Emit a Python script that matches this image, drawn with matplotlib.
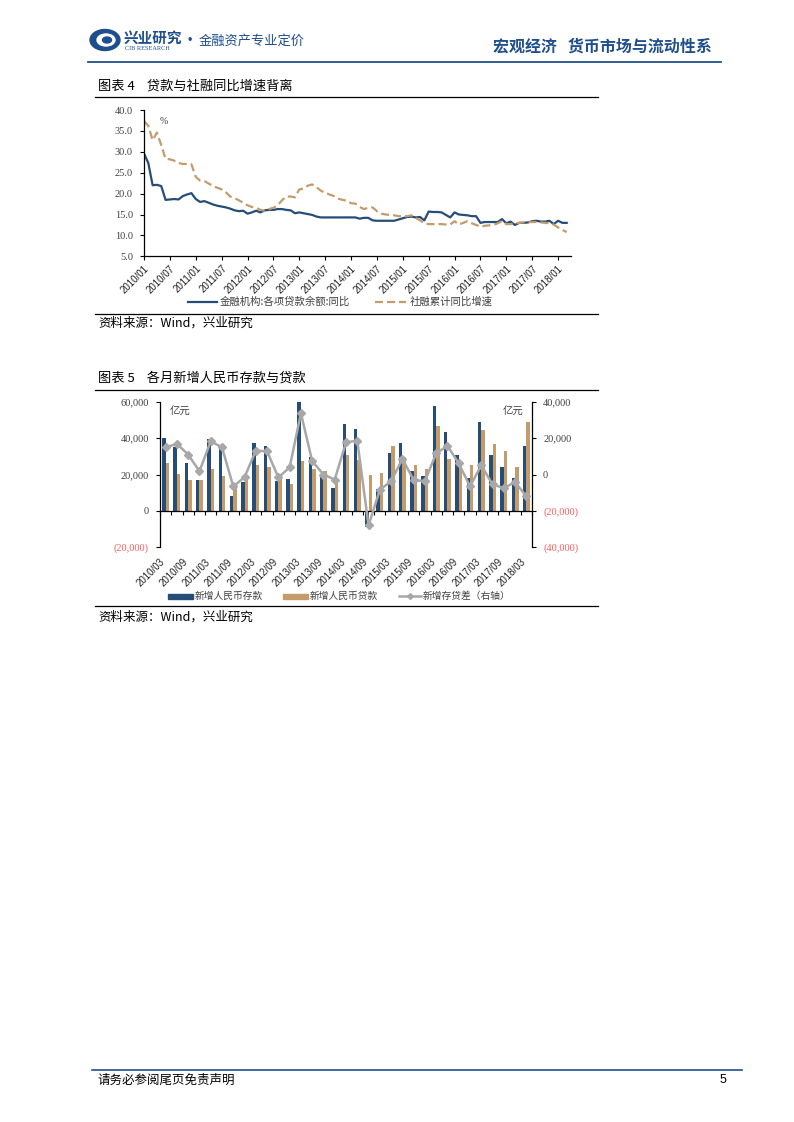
import matplotlib
matplotlib.use('Agg')
import matplotlib.pyplot as plt
from matplotlib.patches import Ellipse, Rectangle
from matplotlib.lines import Line2D

plt.rcParams['font.family'] = ['Noto Sans CJK SC', 'DejaVu Sans']

# ---------------- data: chart 1 (monthly, 2010/01 - 2018/03) ----------------
month_labels = ['2010/01', '2010/07', '2011/01', '2011/07', '2012/01', '2012/07',
                '2013/01', '2013/07', '2014/01', '2014/07', '2015/01', '2015/07',
                '2016/01', '2016/07', '2017/01', '2017/07', '2018/01']
loan_yoy = [29.6, 27.3, 22.0, 22.1, 21.8, 18.5, 18.6, 18.7, 18.6, 19.4, 19.8, 20.1,
            18.7, 18.0, 18.2, 17.8, 17.4, 17.1, 16.9, 16.7, 16.4, 16.0, 15.8, 15.9,
            15.2, 15.5, 15.9, 15.5, 16.0, 16.1, 16.1, 16.3, 16.3, 16.1, 16.0, 15.3,
            15.5, 15.3, 15.1, 14.9, 14.5, 14.3, 14.3, 14.3, 14.3, 14.3, 14.3, 14.3,
            14.3, 14.3, 14.0, 14.2, 14.2, 13.6, 13.5, 13.5, 13.5, 13.5, 13.5, 13.8,
            14.1, 14.4, 14.5, 14.3, 14.4, 13.6, 15.7, 15.6, 15.6, 15.5, 14.9, 14.3,
            15.5, 15.0, 14.9, 14.8, 14.6, 14.6, 13.0, 13.2, 13.2, 13.2, 13.2, 13.9,
            12.9, 13.3, 12.5, 13.0, 13.0, 13.1, 13.4, 13.5, 13.3, 13.3, 13.5, 12.7,
            13.5, 13.0, 13.0]
tsf_yoy = [37.4, 36.2, 32.8, 34.6, 31.6, 28.3, 28.2, 27.9, 27.3, 27.1, 27.1, 27.0,
           24.0, 23.1, 23.0, 22.4, 21.8, 21.4, 21.0, 20.3, 19.3, 18.9, 18.4, 17.8,
           17.2, 16.8, 16.6, 16.1, 15.9, 16.3, 16.6, 17.2, 18.4, 19.3, 19.3, 19.1,
           21.0, 21.2, 21.9, 22.2, 21.5, 20.7, 20.2, 19.8, 19.4, 18.8, 18.5, 18.3,
           17.7, 17.6, 16.8, 16.3, 16.6, 16.7, 15.8, 15.2, 15.0, 14.9, 14.8, 14.6,
           14.6, 14.6, 14.8, 14.2, 13.6, 12.9, 12.7, 12.7, 12.7, 12.7, 12.6, 12.6,
           13.4, 12.6, 13.0, 13.4, 12.9, 12.5, 12.1, 12.3, 12.4, 12.5, 12.9, 13.4,
           12.7, 12.7, 12.9, 13.0, 13.1, 13.2, 13.2, 13.2, 13.1, 13.0, 12.9, 12.6,
           11.9, 11.3, 10.8]
series1_names = ['金融机构:各项贷款余额:同比', '社融累计同比增速']
y1_ticks = [5.0, 10.0, 15.0, 20.0, 25.0, 30.0, 35.0, 40.0]

# ---------------- data: chart 2 (quarterly, 2010/03 - 2018/03) ----------------
quarter_labels = ['2010/03', '2010/09', '2011/03', '2011/09', '2012/03', '2012/09',
                  '2013/03', '2013/09', '2014/03', '2014/09', '2015/03', '2015/09',
                  '2016/03', '2016/09', '2017/03', '2017/09', '2018/03']
deposits = [40400, 35300, 26600, 17200, 39800, 34000, 7900, 15600, 37600, 36000, 16600,
            17700, 60100, 29800, 20300, 12800, 47600, 45300, -9200, 11900, 32100, 37600,
            21700, 18900, 58000, 43700, 31000, 17800, 49200, 31000, 24400, 18300, 36000]
loans = [26100, 20500, 16700, 16700, 22900, 18900, 15000, 18300, 25000, 23900, 18400,
         15000, 27200, 23300, 22100, 17300, 30600, 27800, 19500, 21000, 36000, 29900,
         25000, 22800, 47000, 28500, 26100, 25000, 44800, 37000, 32800, 23900, 49200]
gap = [15000, 16900, 11000, 1800, 18300, 15000, -6600, -1500, 13200, 12800, -1600,
       3900, 33800, 7400, 0, -2800, 17700, 18700, -28100, -8500, -3700, 8600, -3000,
       -3700, 11700, 15800, 6200, -6600, 5100, -5500, -7500, -4200, -12100]
series2_names = ['新增人民币存款', '新增人民币贷款', '新增存贷差（右轴）']
left_ticks = [-20000, 0, 20000, 40000, 60000]
right_ticks = [-40000, -20000, 0, 20000, 40000]

# ---------------- styles ----------------
W, H = 794, 1122
BLUE = '#264D78'
TAN = '#C49C6C'
GRAY = '#A8A8A8'
HEAD = '#1F4E8C'
RED = '#FF5B5B'
TXT = '#404040'
SERIF = ['Liberation Serif', 'DejaVu Serif']
SANS = ['Liberation Sans', 'DejaVu Sans']
CJK = ['Noto Sans CJK SC', 'DejaVu Sans']

fig = plt.figure(figsize=(W / 100, H / 100), dpi=100)


def rect(x0, y0, x1, y1):
    return [x0 / W, 1 - y1 / H, (x1 - x0) / W, (y1 - y0) / H]


def hline(x0, x1, y, color='black', lw=0.8):
    fig.add_artist(Line2D([x0 / W, x1 / W], [1 - y / H, 1 - y / H],
                          transform=fig.transFigure, color=color, lw=lw))


def ftext(x, y, s, **kw):
    fig.text(x / W, 1 - y / H, s, **kw)


# ---------------- header ----------------
fig.add_artist(Ellipse((105 / W, 1 - 40 / H), 30 / W, 21 / H, transform=fig.transFigure,
                       color=HEAD))
fig.add_artist(Ellipse((106 / W, 1 - 40 / H), 18 / W, 12 / H, transform=fig.transFigure,
                       color='white'))
fig.add_artist(Ellipse((107 / W, 1 - 40 / H), 9 / W, 6 / H, transform=fig.transFigure,
                       color=HEAD))
ftext(124, 38, '兴业研究', fontsize=10.5, fontweight='bold', color=HEAD, va='center',
      family=CJK)
ftext(125, 48, 'CIB RESEARCH', fontsize=4.5, color=HEAD, va='center', family=SERIF)
ftext(188, 41, '•', fontsize=9, color=HEAD, va='center', family=SANS)
ftext(199, 41, '金融资产专业定价', fontsize=9.5, color=HEAD, va='center', family=CJK)
ftext(712, 47, '宏观经济   货币市场与流动性系', fontsize=11.5, fontweight='bold', color=HEAD,
      va='center', ha='right', family=CJK)
hline(88, 721, 62, color=HEAD, lw=1.3)

# ---------------- chart 1 ----------------
ftext(98, 86, '图表 4    贷款与社融同比增速背离', fontsize=9.5, va='center', family=CJK)
hline(95, 598, 97, lw=0.9)
ax1 = fig.add_axes(rect(144, 110, 571, 256.3))
months = list(range(len(loan_yoy)))
ax1.plot(months, loan_yoy, color=BLUE, lw=1.6, solid_joinstyle='round')
ax1.plot(months, tsf_yoy, color=TAN, lw=1.6, dashes=(3.6, 1.8))
ax1.set_xlim(0, 99)
ax1.set_ylim(5, 40)
ax1.set_yticks(y1_ticks)
ax1.set_yticklabels([f'{v:.1f}' for v in y1_ticks], family=SERIF, fontsize=7.5,
                    color=TXT)
ax1.set_xticks(list(range(0, 97, 6)))
ax1.set_xticklabels(month_labels, rotation=45, ha='right', rotation_mode='anchor',
                    family=SANS, fontsize=7, color='#202020')
for s in ['top', 'right']:
    ax1.spines[s].set_visible(False)
for s in ['left', 'bottom']:
    ax1.spines[s].set_linewidth(0.9)
ax1.tick_params(axis='both', direction='out', length=3, width=0.8)
ax1.tick_params(axis='x', pad=2)
ax1.tick_params(axis='y', pad=5)
ftext(160, 121, '%', fontsize=7, va='center', family=SERIF, color=TXT)

# legend 1
hline(188, 217, 302, color=BLUE, lw=1.6)
ftext(220, 302, series1_names[0], fontsize=7.5, va='center', family=CJK, color=TXT)
fig.add_artist(Line2D([375 / W, 406 / W], [1 - 302 / H, 1 - 302 / H],
                      transform=fig.transFigure, color=TAN, lw=1.6, dashes=(3.6, 1.8)))
ftext(410, 302, series1_names[1], fontsize=7.5, va='center', family=CJK, color=TXT)
hline(95, 598, 314, lw=0.9)
ftext(98, 323, '资料来源：Wind，兴业研究', fontsize=9, va='center', family=CJK)

# ---------------- chart 2 ----------------
ftext(98, 378, '图表 5    各月新增人民币存款与贷款', fontsize=9.5, va='center', family=CJK)
hline(95, 598, 390, lw=0.9)
ax2 = fig.add_axes(rect(160, 402, 532, 547))
idx = list(range(len(deposits)))
bw = 0.31
ax2.bar([i - 0.155 for i in idx], deposits, width=bw, color=BLUE, zorder=2)
ax2.bar([i + 0.155 for i in idx], loans, width=bw, color=TAN, zorder=2)
ax2.set_xlim(-0.5, len(idx) - 0.5)
ax2.set_ylim(-20000, 60000)
ax2.set_yticks(left_ticks)
ax2.set_yticklabels([f'({abs(v):,})' if v < 0 else f'{v:,}' for v in left_ticks],
                    family=SERIF, fontsize=7.5)
for lab, v in zip(ax2.get_yticklabels(), left_ticks):
    lab.set_color(RED if v < 0 else TXT)
ax2.spines['top'].set_visible(False)
ax2.spines['right'].set_visible(False)
ax2.spines['left'].set_linewidth(0.9)
ax2.spines['bottom'].set_position(('data', 0))
ax2.spines['bottom'].set_linewidth(0.9)
ax2.set_xticks([i - 0.5 for i in range(len(idx) + 1)])
ax2.tick_params(axis='x', direction='out', length=3, width=0.8, labelbottom=False)
ax2.tick_params(axis='y', direction='out', length=3, width=0.8, pad=5)
sec = ax2.secondary_xaxis('bottom')
sec.set_xticks([i - 0.5 for i in range(0, len(idx), 2)])
sec.set_xticklabels(quarter_labels, rotation=45, ha='right', rotation_mode='anchor',
                    family=SANS, fontsize=7, color='#202020')
sec.tick_params(length=0, pad=7)
sec.spines['bottom'].set_visible(False)

ax3 = ax2.twinx()
ax3.plot(idx, gap, color=GRAY, lw=1.8, marker='D', markersize=4.5, zorder=3)
ax3.set_ylim(-40000, 40000)
ax3.set_yticks(right_ticks)
ax3.set_yticklabels([f'({abs(v):,})' if v < 0 else f'{v:,}' for v in right_ticks],
                    family=SERIF, fontsize=7.5)
for lab, v in zip(ax3.get_yticklabels(), right_ticks):
    lab.set_color(RED if v < 0 else TXT)
for s in ['top', 'left', 'bottom']:
    ax3.spines[s].set_visible(False)
ax3.spines['right'].set_linewidth(0.9)
ax3.tick_params(axis='y', direction='out', length=3, width=0.8, pad=5)
ftext(170, 412, '亿元', fontsize=7.5, va='center', family=CJK, color=TXT)
ftext(503, 412, '亿元', fontsize=7.5, va='center', family=CJK, color=TXT)

# legend 2
fig.add_artist(Rectangle((168 / W, 1 - 598.5 / H), 25 / W, 5 / H,
                         transform=fig.transFigure, color=BLUE))
ftext(195, 596, series2_names[0], fontsize=7, va='center', family=CJK, color=TXT)
fig.add_artist(Rectangle((283 / W, 1 - 598.5 / H), 25 / W, 5 / H,
                         transform=fig.transFigure, color=TAN))
ftext(310, 596, series2_names[1], fontsize=7, va='center', family=CJK, color=TXT)
fig.add_artist(Line2D([399 / W, 421 / W], [1 - 596 / H, 1 - 596 / H],
                      transform=fig.transFigure, color=GRAY, lw=1.8))
fig.add_artist(Line2D([410 / W], [1 - 596 / H], transform=fig.transFigure, color=GRAY,
                      marker='D', markersize=3))
ftext(423, 596, series2_names[2], fontsize=7, va='center', family=CJK, color=TXT)
hline(95, 598, 606, lw=0.9)
ftext(98, 617, '资料来源：Wind，兴业研究', fontsize=9, va='center', family=CJK)

# ---------------- footer ----------------
hline(92, 742, 1070, color=HEAD, lw=1.2)
ftext(98, 1080, '请务必参阅尾页免责声明', fontsize=9, va='center', family=CJK)
ftext(720, 1080, '5', fontsize=9, va='center', family=SANS)

fig.savefig('out.png', dpi=100)
